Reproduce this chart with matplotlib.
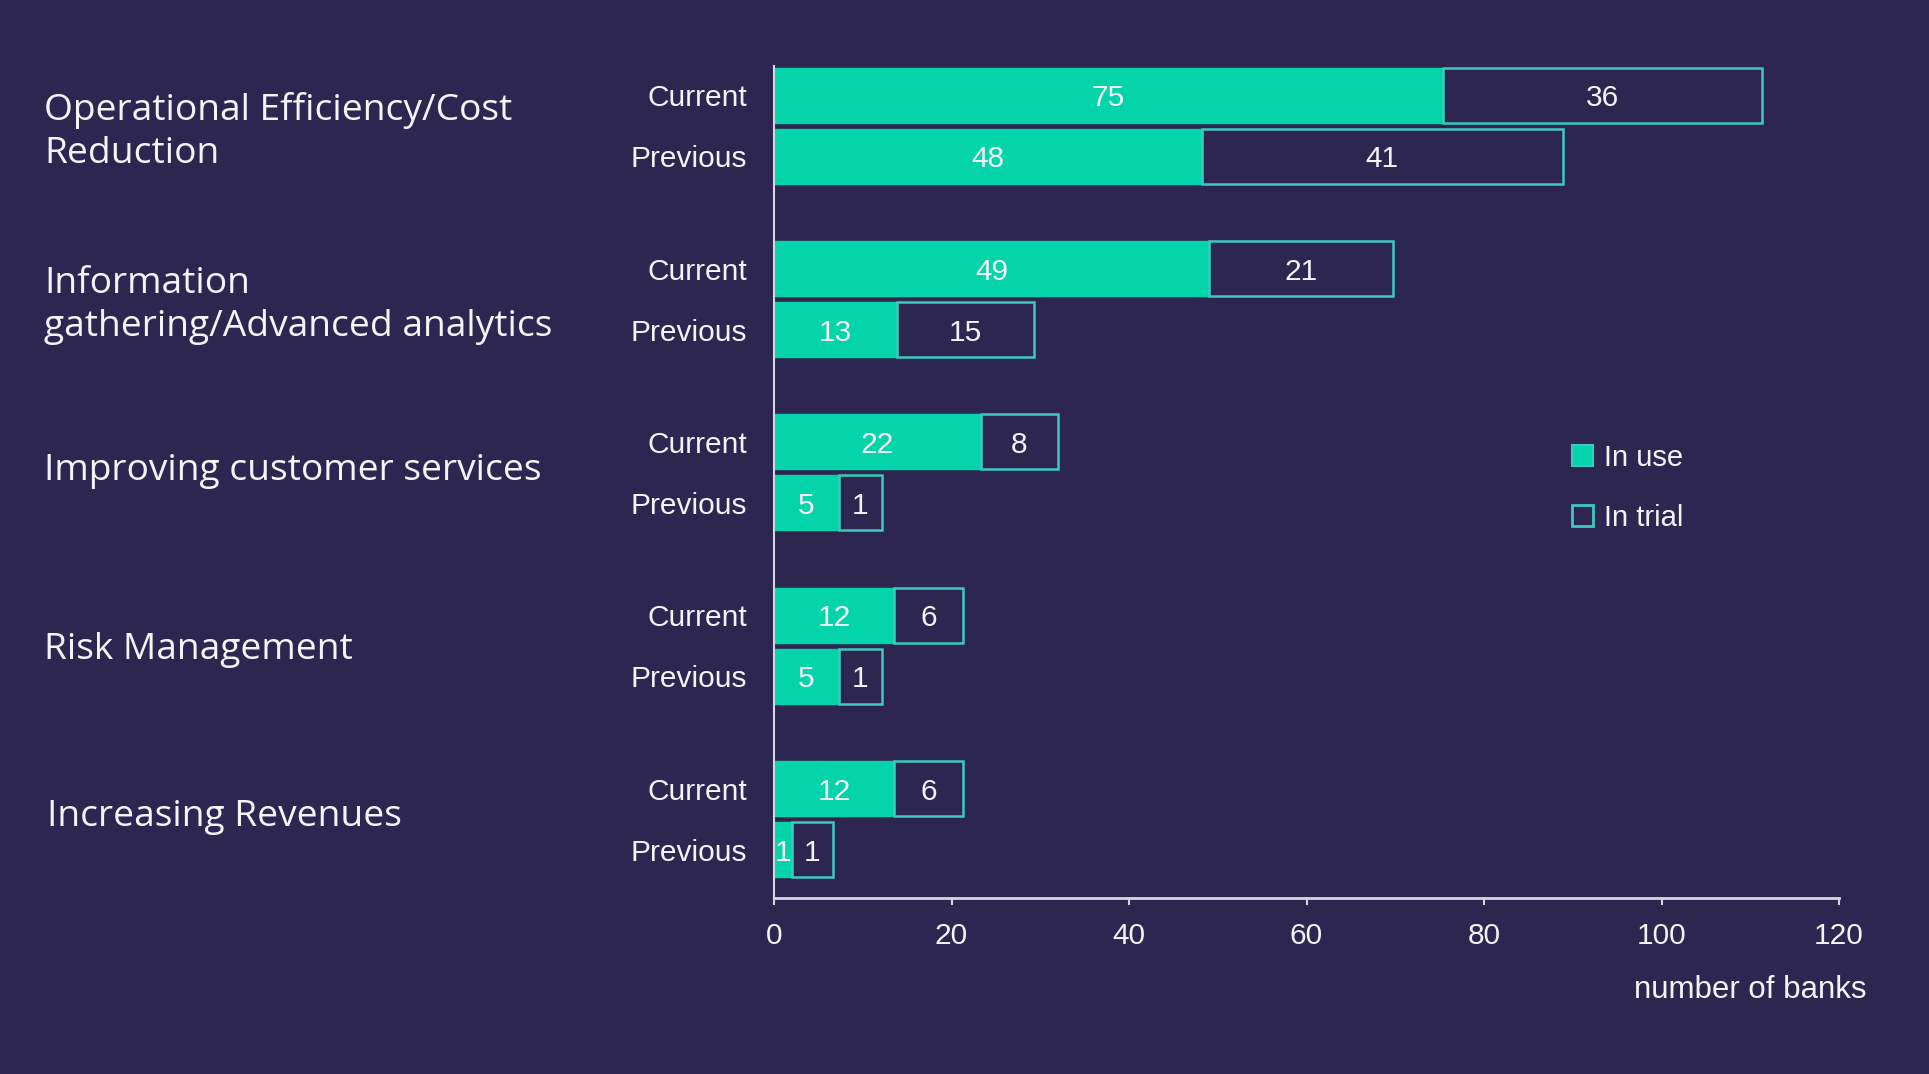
import matplotlib
matplotlib.use("Agg")
import matplotlib.pyplot as plt
from matplotlib.patches import Patch

# ---------------- data ----------------
categories = ["Operational Efficiency/Cost\nReduction",
              "Information\ngathering/Advanced analytics",
              "Improving customer services",
              "Risk Management",
              "Increasing Revenues"]
periods = ["Current", "Previous"]
# label values (Current, Previous for each category)
in_use_values = [75, 48, 49, 13, 22, 5, 12, 5, 12, 1]
in_trial_values = [36, 41, 21, 15, 8, 1, 6, 1, 6, 1]
# segment lengths as drawn on the picture's axis (small segments are drawn wider)
in_use_drawn = [75.4, 48.2, 49.0, 13.9, 23.3, 7.3, 13.55, 7.3, 13.55, 2.0]
in_trial_drawn = [35.9, 40.7, 20.7, 15.4, 8.7, 4.9, 7.75, 4.9, 7.75, 4.6]
x_ticks = [0, 20, 40, 60, 80, 100, 120]
legend_labels = ["In use", "In trial"]
x_label = "number of banks"

# ---------------- style ----------------
BG = "#2d2651"
GREEN = "#04d4a9"
TEAL = "#3ccabd"
WHITE = "#f4f4f8"
AXIS = "#d6d6de"
SANS = ["Liberation Sans", "DejaVu Sans"]
OPEN = ["Open Sans", "DejaVu Sans"]
FS = 21.5

W, H = 1929, 1074
fig = plt.figure(figsize=(W / 100, H / 100), dpi=100, facecolor=BG)

ax_l, ax_r, ax_t, ax_b = 774, 1839, 65.7, 898
ax = fig.add_axes([ax_l / W, 1 - ax_b / H, (ax_r - ax_l) / W, (ax_b - ax_t) / H])
ax.set_facecolor(BG)

group_gap = 2.842
ypos = []
for g in range(len(categories)):
    for p in range(len(periods)):
        ypos.append(g * group_gap + p - 0.04)
ylabels = periods * len(categories)

bar_h = 0.9
ax.barh(ypos, in_use_drawn, height=bar_h, color=GREEN, edgecolor=GREEN, linewidth=1.0, zorder=2)
ax.barh(ypos, in_trial_drawn, left=in_use_drawn, height=bar_h, facecolor="none",
        edgecolor=TEAL, linewidth=1.8, zorder=3)

for y, u, t, uv, tv in zip(ypos, in_use_drawn, in_trial_drawn, in_use_values, in_trial_values):
    ax.text(u / 2, y, str(uv), ha="center", va="center_baseline", color=WHITE,
            fontsize=FS, family=SANS, zorder=4)
    ax.text(u + t / 2, y, str(tv), ha="center", va="center_baseline", color=WHITE,
            fontsize=FS, family=SANS, zorder=4)

ax.set_xlim(0, 120)
ax.set_ylim(13.12, -0.523)
ax.set_xticks(x_ticks)
ax.set_xticklabels([str(v) for v in x_ticks], family=SANS, fontsize=FS, color=WHITE)
ax.set_yticks(ypos)
ax.set_yticklabels(ylabels, family=SANS, fontsize=FS, color=WHITE)
ax.tick_params(axis="y", length=0, pad=19.5)
ax.tick_params(axis="x", length=5, width=1.5, color=AXIS, pad=12.2, direction="out")
for s in ["top", "right"]:
    ax.spines[s].set_visible(False)
ax.spines["left"].set_color(AXIS)
ax.spines["left"].set_linewidth(1.5)
ax.spines["bottom"].set_color(AXIS)
ax.spines["bottom"].set_linewidth(2.0)

# category labels on the left (baselines in pixels)
baselines = [[120, 162.7], [293, 336], [480], [659], [826]]
lefts = [44, 44, 44, 44, 47]
for cat, bl, lx in zip(categories, baselines, lefts):
    for line, b in zip(cat.split("\n"), bl):
        fig.text(lx / W, 1 - b / H, line, ha="left", va="baseline", color=WHITE,
                 fontsize=26.7, family=OPEN)

# axis label
fig.text(1866 / W, 1 - 998 / H, x_label, ha="right", va="baseline", color=WHITE,
         fontsize=22.5, family=SANS)

# legend
handles = [Patch(facecolor=GREEN, edgecolor=TEAL, linewidth=1.5),
           Patch(facecolor="none", edgecolor=TEAL, linewidth=2.0)]
leg = fig.legend(handles, legend_labels, loc="upper left",
                 bbox_to_anchor=(1571.7 / W, 1 - 444 / H), frameon=False,
                 prop={"family": SANS, "size": 21}, labelcolor=WHITE,
                 handlelength=0.74, handleheight=0.74, handletextpad=0.36,
                 labelspacing=1.1, borderpad=0, borderaxespad=0)

fig.savefig("out.png", dpi=100, facecolor=BG)
